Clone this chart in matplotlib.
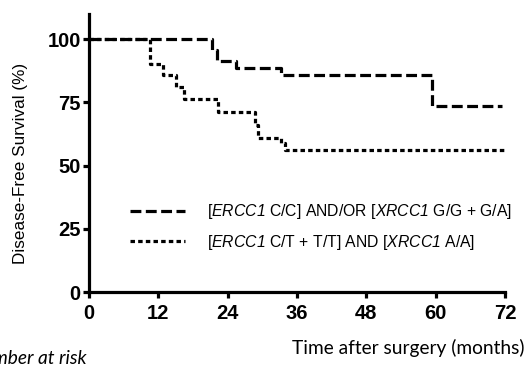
import matplotlib
matplotlib.use('Agg')
import matplotlib.pyplot as plt

# Kaplan-Meier style survival curves (months, % disease-free)
t_cc = [0, 21.3, 22.2, 25.5, 33.3, 59.3, 71.5]
s_cc = [100, 95.7, 91.3, 88.6, 85.7, 73.4, 73.4]

t_ct = [0, 10.5, 12.8, 15.1, 16.4, 22.3, 28.7, 29.2, 33.3, 33.9, 72]
s_ct = [100, 90.4, 85.8, 81.0, 76.2, 71.3, 66.0, 61.0, 58.8, 56.0, 56.0]

xticks = [0, 12, 24, 36, 48, 60, 72]
yticks = [0, 25, 50, 75, 100]

label_cc = r'[$ERCC1$ C/C] AND/OR [$XRCC1$ G/G + G/A]'
label_ct = r'[$ERCC1$ C/T + T/T] AND [$XRCC1$ A/A]'

plt.rcParams['font.family'] = ['Liberation Sans', 'DejaVu Sans']
# math parts are only used for the italic gene names
plt.rcParams['mathtext.fontset'] = 'custom'
plt.rcParams['mathtext.rm'] = 'Liberation Sans:italic'
plt.rcParams['mathtext.it'] = 'Liberation Sans:italic'

fig = plt.figure(figsize=(5.29, 3.69), dpi=100)
ax = fig.add_axes([89/529, 1-292/369, 416/529, 278/369])

ax.step(t_cc, s_cc, where='post', color='black', lw=2.3,
        linestyle=(0, (3.4, 1.4)), label=label_cc)
ax.step(t_ct, s_ct, where='post', color='black', lw=2.3,
        linestyle=(0, (1.4, 1.0)), label=label_ct)

ax.set_xlim(0, 72)
ax.set_ylim(0, 110)
ax.set_xticks(xticks)
ax.set_yticks(yticks)
for s in ['top', 'right']:
    ax.spines[s].set_visible(False)
for s in ['left', 'bottom']:
    ax.spines[s].set_linewidth(2.3)
ax.tick_params(width=2.3, length=4.5, labelsize=14.5)
ax.tick_params(axis='x', pad=4)
ax.tick_params(axis='y', pad=1.5)
for lab in ax.get_xticklabels() + ax.get_yticklabels():
    lab.set_fontweight('bold')

fig.text(21/529, 1-163/369, 'Disease-Free Survival (%)', rotation=90,
         ha='center', va='center', fontsize=12.3)

fig.text(525/529, 1-348/369, 'Time after surgery (months)', ha='right', va='center',
         fontsize=13.8, family=['Lato', 'DejaVu Sans'])
fig.text(87/529, 1-359/369, 'Number at risk', ha='right', va='center',
         fontsize=13.8, style='italic', family=['Lato', 'DejaVu Sans'])

ax.legend(loc='upper left', bbox_to_anchor=(130/529, 1-202/369),
          bbox_transform=fig.transFigure, frameon=False, fontsize=11.3,
          handlelength=3.5, handletextpad=1.4, labelspacing=0.75,
          borderpad=0, borderaxespad=0)

fig.savefig('out.png', dpi=100)
